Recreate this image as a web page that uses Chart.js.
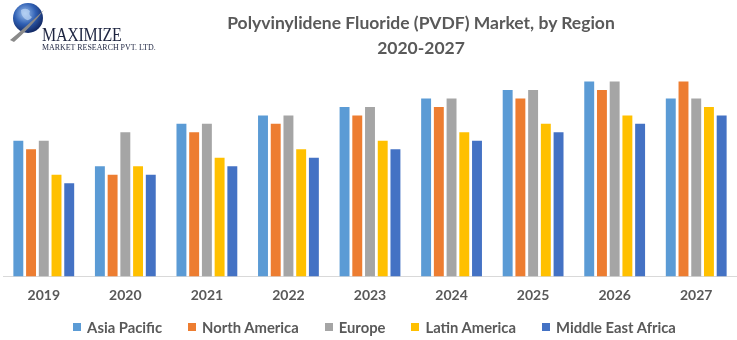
<!DOCTYPE html>
<html>
<head>
<meta charset="utf-8">
<script src="https://cdn.jsdelivr.net/npm/chart.js@4/dist/chart.umd.min.js"></script>
<style>
  body { margin: 0; background: #fff; }
  #wrap { position: relative; width: 737px; height: 340px; overflow: hidden; }
  #titre {
    position: absolute; left: 216px; top: 10px; width: 410px;
    text-align: center; font: bold 17.5px Lato, sans-serif; line-height: 25px; color: #595959;
  }
  #logo { position: absolute; left: 6px; top: 0; width: 170px; height: 56px; }
  #logo .nom {
    position: absolute; left: 36px; top: 24px; font: 19px "Liberation Serif", "DejaVu Serif", serif;
    color: #1d2440; transform: scaleX(0.84); transform-origin: left top; letter-spacing: -0.3px;
  }
  #logo .sous {
    position: absolute; left: 36px; top: 42px; font: 9px "Liberation Serif", "DejaVu Serif", serif;
    color: #1d2440; transform: scaleX(0.88); transform-origin: left top; white-space: nowrap;
  }
  #legende {
    position: absolute; left: 0; top: 318px; width: 749px; height: 18px;
    display: flex; justify-content: center; align-items: center; gap: 26px;
    font: bold 14.8px Lato, sans-serif; color: #595959;
  }
  #legende span.item { display: flex; align-items: center; white-space: nowrap; }
  #legende span.carre { width: 8px; height: 8px; margin-right: 6px; display: inline-block; }
</style>
</head>
<body>
<div id="wrap">
  <canvas id="chartRegion" width="737" height="340"></canvas>
  <div id="logo">
    <svg width="46" height="50" style="position:absolute;left:0;top:0">
      <defs>
        <radialGradient id="globe" cx="40%" cy="35%" r="65%">
          <stop offset="0%" stop-color="#9fc3ef"/>
          <stop offset="55%" stop-color="#2f5fb3"/>
          <stop offset="100%" stop-color="#132a66"/>
        </radialGradient>
      </defs>
      <circle cx="22" cy="18" r="15" fill="url(#globe)"/>
      <path d="M15 10 q5 -3 9 1 q-2 4 2 6 q-3 5 -7 2 q-4 -3 -4 -9z" fill="#bcd6f5" opacity="0.7"/>
      <path d="M4 40 q10 -8 34 -30 q-14 18 -30 32z" fill="#8a8a8a"/>
    </svg>
    <div class="nom">MAXIMIZE</div>
    <div class="sous">MARKET RESEARCH PVT. LTD.</div>
  </div>
  <div id="titre">Polyvinylidene Fluoride (PVDF) Market, by Region<br>2020-2027</div>
  <div id="legende"></div>
</div>
<script>
// années et valeurs par région (unités relatives)
const annees = ["2019", "2020", "2021", "2022", "2023", "2024", "2025", "2026", "2027"];
const regions = ["Asia Pacific", "North America", "Europe", "Latin America", "Middle East Africa"];
const couleurs = ["#5b9bd5", "#ed7d31", "#a5a5a5", "#ffc000", "#4472c4"];

const asiePacifique = [16, 13, 18, 19, 20, 21, 22, 23, 21];
const ameriqueNord = [15, 12, 17, 18, 19, 20, 21, 22, 23];
const europe = [16, 17, 18, 19, 20, 21, 22, 23, 21];
const ameriqueLatine = [12, 13, 14, 15, 16, 17, 18, 19, 20];
const moyenOrientAfrique = [11, 12, 13, 14, 15, 16, 17, 18, 19];

const series = [asiePacifique, ameriqueNord, europe, ameriqueLatine, moyenOrientAfrique];

const ctx = document.getElementById("chartRegion").getContext("2d");

const graphique = new Chart(ctx, {
  type: "bar",
  data: {
    labels: annees,
    datasets: regions.map((nom, i) => ({
      label: nom,
      data: series[i],
      backgroundColor: couleurs[i],
      categoryPercentage: 0.78,
      barPercentage: 0.78
    }))
  },
  options: {
    responsive: false,
    animation: false,
    layout: { padding: { top: 73, left: 3, right: 0, bottom: 25.6 } },
    plugins: {
      tooltip: { enabled: false },
      legend: { display: false }
    },
    scales: {
      x: {
        grid: { drawOnChartArea: false, drawTicks: false },
        border: { color: "#d9d9d9", width: 1 },
        ticks: {
          padding: 10.6,
          color: "#595959",
          font: { family: "Lato", size: 14, weight: "bold" }
        }
      },
      y: {
        display: false,
        min: 0,
        max: 24
      }
    }
  }
});

// légende HTML construite à partir des jeux de données
const legende = document.getElementById("legende");
graphique.data.datasets.forEach(ds => {
  const item = document.createElement("span");
  item.className = "item";
  const carre = document.createElement("span");
  carre.className = "carre";
  carre.style.background = ds.backgroundColor;
  item.appendChild(carre);
  item.appendChild(document.createTextNode(ds.label));
  legende.appendChild(item);
});
</script>
</body>
</html>
